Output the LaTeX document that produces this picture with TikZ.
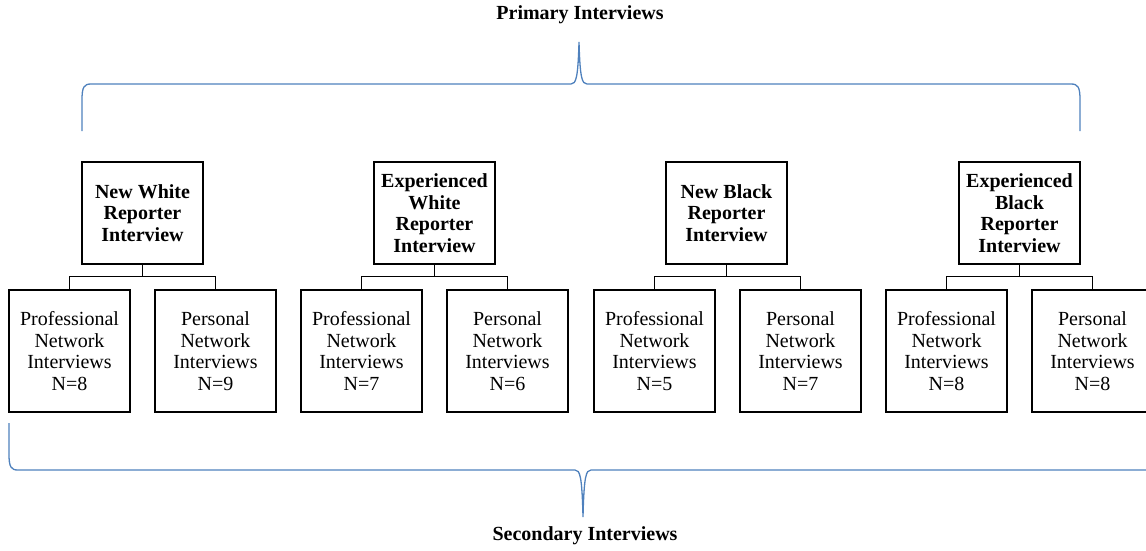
\documentclass[tikz,border=0pt]{standalone}
\usepackage{fontspec}
\setmainfont{Liberation Serif}
\definecolor{bracecol}{HTML}{4F81BD}
\tikzset{
  x=1pt, y=-1pt,
  reporter/.style={draw=black, line width=1.1pt, minimum width=121pt, minimum height=102pt,
    inner sep=0pt, align=center, font=\fontsize{20}{21.5}\selectfont\bfseries},
  sample/.style={draw=black, line width=1.1pt, minimum width=121pt, minimum height=122pt,
    inner sep=0pt, align=center, font=\fontsize{20}{21.5}\selectfont},
  tree/.style={draw=black, line width=1.1pt},
  brace/.style={draw=bracecol, line width=1.3pt},
  heading/.style={font=\fontsize{20}{22}\selectfont\bfseries, inner sep=0pt}
}
\begin{document}
\begin{tikzpicture}
\useasboundingbox (0,0) rectangle (1146,550);

% headings
\node[heading] (prim) at (580,15) {Primary Interviews};
\node[heading] (sec) at (585,536) {Secondary Interviews};

% reporters
\node[reporter] (r1) at (142.5,213) {New White\\Reporter\\Interview};
\node[reporter] (r2) at (434.5,213) {Experienced\\White\\Reporter\\Interview};
\node[reporter] (r3) at (726.5,213) {New Black\\Reporter\\Interview};
\node[reporter] (r4) at (1019.5,213) {Experienced\\Black\\Reporter\\Interview};

% network interviews
\node[sample] (p1) at (69.5,351) {Professional\\Network\\Interviews\\N=8};
\node[sample] (q1) at (215.5,351) {Personal\\Network\\Interviews\\N=9};
\node[sample] (p2) at (361.5,351) {Professional\\Network\\Interviews\\N=7};
\node[sample] (q2) at (507.5,351) {Personal\\Network\\Interviews\\N=6};
\node[sample] (p3) at (654.5,351) {Professional\\Network\\Interviews\\N=5};
\node[sample] (q3) at (800.5,351) {Personal\\Network\\Interviews\\N=7};
\node[sample] (p4) at (946.5,351) {Professional\\Network\\Interviews\\N=8};
\node[sample] (q4) at (1092.5,351) {Personal\\Network\\Interviews\\N=8};

% tree connectors
\foreach \i in {1,2,3,4}{
  \draw[tree] (r\i.south) -- ++(0,12) coordinate (j\i);
  \draw[tree] (j\i) -| (p\i.north);
  \draw[tree] (j\i) -| (q\i.north);
}

% upper brace
\draw[brace] (82,131) -- (82,100) .. controls (82,87) and (84,84) .. (91,84)
  -- (571,84) .. controls (576,84) and (578,78) .. (579,42)
  .. controls (580,78) and (582,84) .. (587,84)
  -- (1071,84) .. controls (1078,84) and (1080,87) .. (1080,100) -- (1080,131);

% lower brace
\draw[brace] (9,423) -- (9,454) .. controls (9,467) and (11,470) .. (18,470)
  -- (575,470) .. controls (580,470) and (582,476) .. (583,517)
  .. controls (584,476) and (586,470) .. (591,470)
  -- (1150,470);
\end{tikzpicture}
\end{document}
